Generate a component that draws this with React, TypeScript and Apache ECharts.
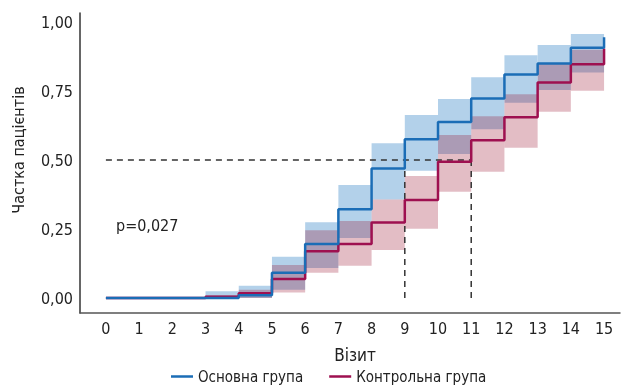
import React, { useEffect, useRef } from "react";
import * as echarts from "echarts";

// Visits 0..15 — value held on interval [visit, visit+1)
const visits = [0, 1, 2, 3, 4, 5, 6, 7, 8, 9, 10, 11, 12, 13, 14, 15];
const mainValues = [0, 0, 0, 0.0, 0.01, 0.092, 0.196, 0.322, 0.47, 0.576, 0.638, 0.723, 0.81, 0.85, 0.907, 0.945];
const controlValues = [0, 0, 0, 0.005, 0.018, 0.069, 0.17, 0.196, 0.274, 0.355, 0.494, 0.572, 0.655, 0.781, 0.847, 0.904];

// Confidence bands per interval start visit
const bandVisits = [3, 4, 5, 6, 7, 8, 9, 10, 11, 12, 13, 14];
const mainLower = [0, 0, 0.03, 0.109, 0.218, 0.357, 0.461, 0.522, 0.612, 0.708, 0.754, 0.817];
const mainUpper = [0.025, 0.045, 0.15, 0.275, 0.41, 0.561, 0.663, 0.721, 0.8, 0.88, 0.917, 0.957];
const controlLower = [0, 0, 0.02, 0.092, 0.117, 0.174, 0.251, 0.385, 0.458, 0.545, 0.675, 0.751];
const controlUpper = [0.01, 0.03, 0.12, 0.246, 0.279, 0.357, 0.442, 0.591, 0.659, 0.739, 0.85, 0.9];

const yTicks = [0, 0.25, 0.5, 0.75, 1];
const seriesNames = ["Основна група", "Контрольна група"];
const medianLevel = 0.5;
const mainMedianVisit = 9;
const controlMedianVisit = 11;
const pText = "p=0,027";

const FONT = "'Liberation Sans Narrow', 'DejaVu Sans Condensed', 'Roboto Condensed', 'Liberation Sans', sans-serif";
const BLUE = "#1b6db6";
const RED = "#9e1050";

function bandSeries(lower: number[], upper: number[], fill: string, z: number) {
  return {
    type: "custom",
    z,
    silent: true,
    encode: { x: 0, y: [1, 2] },
    data: bandVisits.map((v, i) => [v, lower[i], upper[i]]),
    renderItem: (params: any, api: any) => {
      const x0 = api.value(0);
      const p1 = api.coord([x0, api.value(2)]);
      const p2 = api.coord([x0 + 1, api.value(1)]);
      return {
        type: "rect",
        shape: { x: p1[0], y: p1[1], width: p2[0] - p1[0], height: p2[1] - p1[1] },
        style: { fill },
      };
    },
  };
}

function dashed(data: number[][]) {
  return {
    type: "line",
    data,
    symbol: "none",
    silent: true,
    z: 5,
    lineStyle: { color: "#333", width: 1.5, type: [6, 5] },
  };
}

export default function App() {
  const ref = useRef<HTMLDivElement>(null);
  useEffect(() => {
    if (!ref.current) return;
    const chart = echarts.init(ref.current, undefined, { renderer: "svg" });
    chart.setOption({
      animation: false,
      textStyle: { fontFamily: FONT },
      grid: { left: 80, top: 13, width: 540, height: 300 },
      legend: {
        data: seriesNames,
        bottom: 3,
        left: 166,
        icon: "rect",
        itemWidth: 22,
        itemHeight: 2.5,
        itemGap: 26,
        textStyle: { fontFamily: FONT, fontSize: 15, color: "#222" },
      },
      xAxis: {
        type: "value",
        min: -0.78,
        max: 15.48,
        axisLine: { onZero: false, lineStyle: { color: "#555", width: 1.5 } },
        axisTick: { show: false },
        splitLine: { show: false },
        axisLabel: {
          customValues: visits,
          fontFamily: FONT,
          fontSize: 16,
          color: "#222",
          margin: 7,
        },
      },
      yAxis: {
        type: "value",
        min: -0.054,
        max: 1.033,
        axisLine: { show: true, onZero: false, lineStyle: { color: "#333", width: 1.5 } },
        axisTick: { show: false },
        splitLine: { show: false },
        axisLabel: {
          customValues: yTicks,
          fontFamily: FONT,
          fontSize: 16,
          color: "#222",
          margin: 7,
          formatter: (v: number) => v.toFixed(2).replace(".", ","),
        },
      },
      graphic: [
        {
          type: "text",
          x: 18,
          y: 150,
          rotation: Math.PI / 2,
          style: {
            text: "Частка пацієнтів",
            fontFamily: FONT,
            fontSize: 16,
            fill: "#222",
            align: "center",
            verticalAlign: "middle",
          },
        },
        {
          type: "text",
          x: 355,
          y: 355,
          style: {
            text: "Візит",
            fontFamily: FONT,
            fontSize: 17,
            fill: "#222",
            align: "center",
            verticalAlign: "middle",
          },
        },
        {
          type: "text",
          x: 116,
          y: 225,
          style: {
            text: pText,
            fontFamily: FONT,
            fontSize: 16,
            fill: "#222",
            align: "left",
            verticalAlign: "middle",
          },
        },
      ],
      series: [
        bandSeries(mainLower, mainUpper, "#b3d1ea", 1),
        bandSeries(controlLower, controlUpper, "rgba(150,10,40,0.27)", 2),
        dashed([[0, medianLevel], [controlMedianVisit, medianLevel]]),
        dashed([[mainMedianVisit, medianLevel], [mainMedianVisit, -0.01]]),
        dashed([[controlMedianVisit, medianLevel], [controlMedianVisit, -0.01]]),
        {
          name: seriesNames[1],
          type: "line",
          step: "end",
          symbol: "none",
          z: 6,
          data: visits.map((v, i) => [v, controlValues[i]]),
          lineStyle: { color: RED, width: 2.5 },
          itemStyle: { color: RED },
        },
        {
          name: seriesNames[0],
          type: "line",
          step: "end",
          symbol: "none",
          z: 7,
          data: visits.map((v, i) => [v, mainValues[i]]),
          lineStyle: { color: BLUE, width: 2.5 },
          itemStyle: { color: BLUE },
        },
      ],
    });
    return () => chart.dispose();
  }, []);
  return <div ref={ref} style={{ position: "fixed", left: 0, top: 0, width: 622, height: 392 }} />;
}
